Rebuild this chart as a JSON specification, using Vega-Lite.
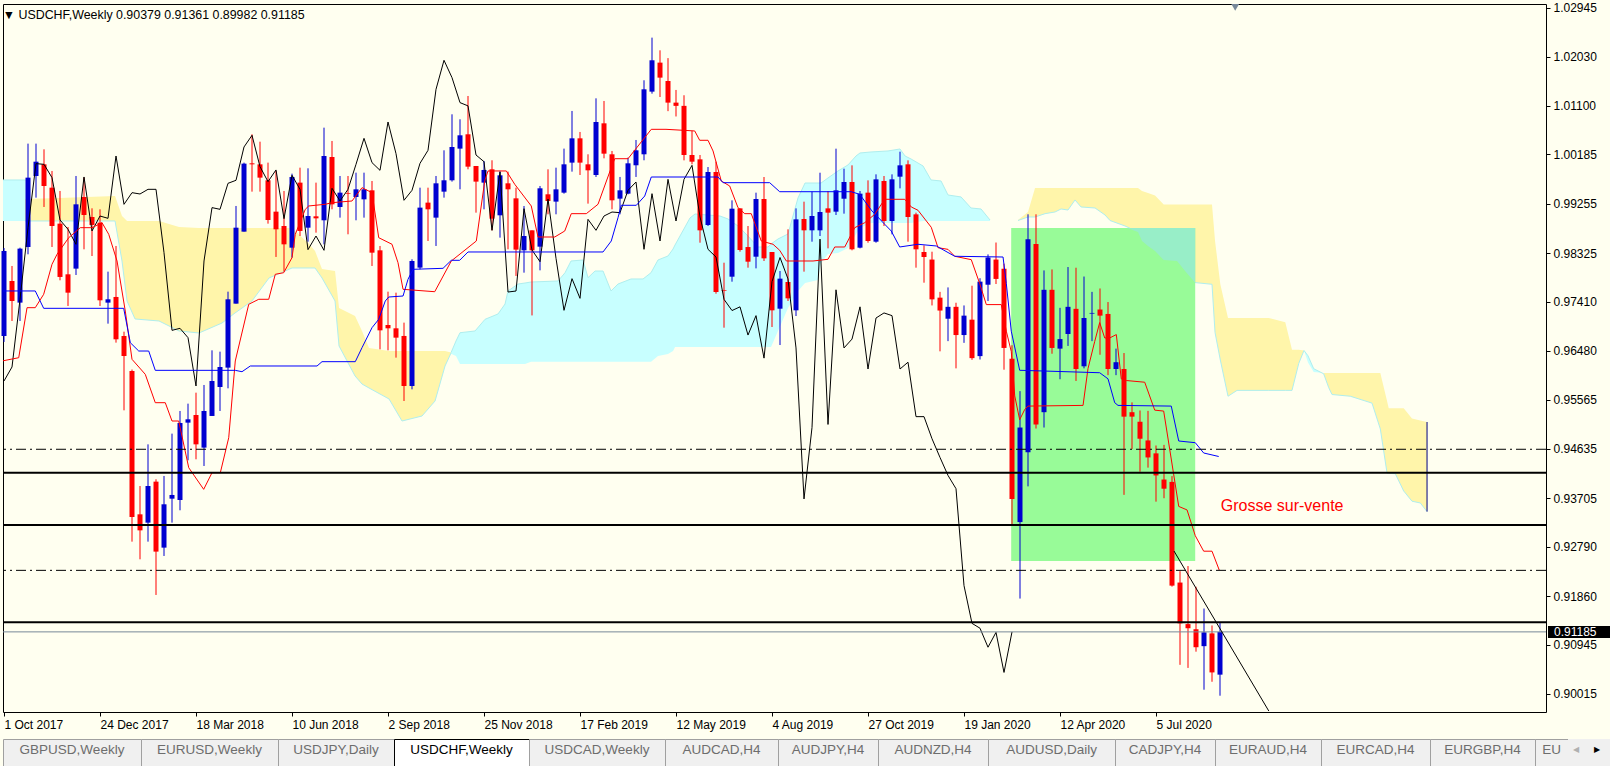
{
"$schema": "https://vega.github.io/schema/vega-lite/v6.json",
"padding": {"left": 1, "top": 1, "right": 0, "bottom": 0},
"background": "#FFFFF0",
"spacing": 0,
"config": {"view": {"stroke": null}, "axis": {"grid": false, "domain": false, "tickColor": "#000000", "labelColor": "#000000", "labelFont": "Liberation Sans", "labelFontSize": 12}},
"datasets": {
"candles": [
{"w":0,"o":0.96762,"h":0.9842,"l":0.9665,"c":0.98365},
{"w":1,"o":0.97799,"h":0.98082,"l":0.97045,"c":0.97422},
{"w":2,"o":0.97391,"h":0.98427,"l":0.97045,"c":0.98409},
{"w":3,"o":0.9844,"h":1.00388,"l":0.98302,"c":0.99747},
{"w":4,"o":0.99778,"h":1.00388,"l":0.9937,"c":1.00048},
{"w":5,"o":0.99998,"h":1.00281,"l":0.99194,"c":0.9959},
{"w":6,"o":0.99558,"h":0.99873,"l":0.9844,"c":0.98836},
{"w":7,"o":0.9888,"h":0.99496,"l":0.97812,"c":0.97875},
{"w":8,"o":0.97925,"h":0.98817,"l":0.97328,"c":0.97579},
{"w":9,"o":0.98032,"h":0.99778,"l":0.97912,"c":0.99244},
{"w":10,"o":0.99382,"h":0.99747,"l":0.98396,"c":0.99043},
{"w":11,"o":0.99005,"h":0.99169,"l":0.9827,"c":0.98855},
{"w":12,"o":0.98899,"h":0.9915,"l":0.97328,"c":0.97435},
{"w":13,"o":0.97391,"h":0.97975,"l":0.96995,"c":0.97454},
{"w":14,"o":0.97498,"h":0.98459,"l":0.96637,"c":0.967},
{"w":15,"o":0.96762,"h":0.96844,"l":0.95361,"c":0.96385},
{"w":16,"o":0.96103,"h":0.9613,"l":0.92886,"c":0.93351},
{"w":17,"o":0.93401,"h":0.93935,"l":0.92553,"c":0.93099},
{"w":18,"o":0.93244,"h":0.9472,"l":0.92886,"c":0.93935},
{"w":19,"o":0.94017,"h":0.94061,"l":0.91881,"c":0.92698},
{"w":20,"o":0.92773,"h":0.94124,"l":0.92616,"c":0.9359},
{"w":21,"o":0.93696,"h":0.94922,"l":0.93244,"c":0.93766},
{"w":22,"o":0.93671,"h":0.95349,"l":0.93477,"c":0.95123},
{"w":23,"o":0.95129,"h":0.95487,"l":0.94419,"c":0.95192},
{"w":24,"o":0.95273,"h":0.95694,"l":0.94438,"c":0.9472},
{"w":25,"o":0.94658,"h":0.95839,"l":0.94312,"c":0.95349},
{"w":26,"o":0.95255,"h":0.96492,"l":0.95255,"c":0.95914},
{"w":27,"o":0.95801,"h":0.96467,"l":0.95349,"c":0.96178},
{"w":28,"o":0.96166,"h":0.97598,"l":0.95776,"c":0.97454},
{"w":29,"o":0.97372,"h":0.99213,"l":0.97372,"c":0.98804},
{"w":30,"o":0.98729,"h":1.0003,"l":0.98729,"c":1.00011},
{"w":31,"o":1.00017,"h":1.00564,"l":0.99483,"c":0.99998},
{"w":32,"o":0.99998,"h":1.00425,"l":0.99483,"c":0.99747},
{"w":33,"o":0.99697,"h":1.0003,"l":0.9888,"c":0.98949},
{"w":34,"o":0.99106,"h":0.99873,"l":0.98252,"c":0.98773},
{"w":35,"o":0.98836,"h":0.99496,"l":0.97975,"c":0.9849},
{"w":36,"o":0.98427,"h":0.99822,"l":0.98239,"c":0.9976},
{"w":37,"o":0.99653,"h":0.99935,"l":0.98647,"c":0.98742},
{"w":38,"o":0.98804,"h":0.99923,"l":0.98541,"c":0.99024},
{"w":39,"o":0.99018,"h":0.99653,"l":0.9871,"c":0.9898},
{"w":40,"o":0.98943,"h":1.00689,"l":0.9849,"c":1.00155},
{"w":41,"o":1.00136,"h":1.00438,"l":0.9915,"c":0.99244},
{"w":42,"o":0.99194,"h":0.99778,"l":0.98993,"c":0.99464},
{"w":43,"o":0.99452,"h":0.99778,"l":0.98679,"c":0.99439},
{"w":44,"o":0.99382,"h":0.99841,"l":0.98943,"c":0.99527},
{"w":45,"o":0.99338,"h":0.99841,"l":0.98993,"c":0.99527},
{"w":46,"o":0.99508,"h":0.99684,"l":0.98082,"c":0.98333},
{"w":47,"o":0.98377,"h":0.98459,"l":0.96511,"c":0.96869},
{"w":48,"o":0.9697,"h":0.97598,"l":0.96492,"c":0.96907},
{"w":49,"o":0.96907,"h":0.97579,"l":0.96354,"c":0.96731},
{"w":50,"o":0.96763,"h":0.97014,"l":0.95537,"c":0.9582},
{"w":51,"o":0.9582,"h":0.98208,"l":0.95757,"c":0.98176},
{"w":52,"o":0.98051,"h":0.99558,"l":0.98019,"c":0.99182},
{"w":53,"o":0.99276,"h":0.99558,"l":0.98553,"c":0.9915},
{"w":54,"o":0.98993,"h":0.99778,"l":0.98459,"c":0.9964},
{"w":55,"o":0.99483,"h":1.00262,"l":0.9937,"c":0.99697},
{"w":56,"o":0.99697,"h":1.00941,"l":0.99672,"c":1.00325},
{"w":57,"o":1.00294,"h":1.00847,"l":0.99527,"c":1.00545},
{"w":58,"o":1.00564,"h":1.01286,"l":0.99904,"c":0.99954},
{"w":59,"o":0.99967,"h":0.99967,"l":0.99087,"c":0.99672},
{"w":60,"o":0.99653,"h":1.00061,"l":0.9915,"c":0.99892},
{"w":61,"o":0.99904,"h":1.00074,"l":0.98754,"c":0.98974},
{"w":62,"o":0.99037,"h":0.99873,"l":0.98616,"c":0.99791},
{"w":63,"o":0.9964,"h":0.9986,"l":0.98396,"c":0.99527},
{"w":64,"o":0.99357,"h":0.99558,"l":0.97894,"c":0.9839},
{"w":65,"o":0.98377,"h":0.99213,"l":0.97956,"c":0.98647},
{"w":66,"o":0.98754,"h":0.98754,"l":0.9715,"c":0.98377},
{"w":67,"o":0.98446,"h":0.9959,"l":0.98,"c":0.99546},
{"w":68,"o":0.99433,"h":0.99904,"l":0.99056,"c":0.99307},
{"w":69,"o":0.99295,"h":0.99935,"l":0.99056,"c":0.99527},
{"w":70,"o":0.99464,"h":1.00294,"l":0.99445,"c":0.99998},
{"w":71,"o":1.0003,"h":1.01004,"l":0.9986,"c":1.00488},
{"w":72,"o":1.00488,"h":1.00608,"l":0.99797,"c":1.0003},
{"w":73,"o":0.99998,"h":1.00187,"l":0.99257,"c":0.99885},
{"w":74,"o":0.99797,"h":1.01242,"l":0.9976,"c":1.00796},
{"w":75,"o":1.00771,"h":1.01192,"l":1.00111,"c":1.00199},
{"w":76,"o":1.00187,"h":1.0025,"l":0.9915,"c":0.9932},
{"w":77,"o":0.99351,"h":0.9976,"l":0.99056,"c":0.99508},
{"w":78,"o":0.99445,"h":1.00124,"l":0.99433,"c":1.00017},
{"w":79,"o":0.9998,"h":1.00457,"l":0.9976,"c":1.00262},
{"w":80,"o":1.00187,"h":1.01582,"l":1.00074,"c":1.01412},
{"w":81,"o":1.01368,"h":1.02386,"l":1.0133,"c":1.01959},
{"w":82,"o":1.01915,"h":1.02147,"l":1.01267,"c":1.01632},
{"w":83,"o":1.01569,"h":1.02,"l":1.01,"c":1.01161},
{"w":84,"o":1.01161,"h":1.014,"l":1.009,"c":1.011},
{"w":85,"o":1.011,"h":1.013,"l":1.00073,"c":1.00174},
{"w":86,"o":1.00174,"h":1.0063,"l":0.99998,"c":1.00048},
{"w":87,"o":1.00092,"h":1.00174,"l":0.98521,"c":0.98754},
{"w":88,"o":0.98854,"h":0.99947,"l":0.98835,"c":0.99853},
{"w":89,"o":0.99853,"h":1.00048,"l":0.9756,"c":0.97591},
{"w":90,"o":0.97623,"h":0.98144,"l":0.96919,"c":0.9761},
{"w":91,"o":0.9788,"h":0.99319,"l":0.97786,"c":0.99162},
{"w":92,"o":0.99168,"h":0.99168,"l":0.98352,"c":0.98383},
{"w":93,"o":0.98439,"h":0.98835,"l":0.9805,"c":0.98163},
{"w":94,"o":0.98257,"h":0.99464,"l":0.98037,"c":0.99344},
{"w":95,"o":0.99344,"h":0.99759,"l":0.98176,"c":0.98226},
{"w":96,"o":0.98345,"h":0.98345,"l":0.96932,"c":0.97246},
{"w":97,"o":0.97277,"h":0.97987,"l":0.96592,"c":0.97843},
{"w":98,"o":0.9778,"h":0.98773,"l":0.97422,"c":0.97472},
{"w":99,"o":0.97246,"h":0.99168,"l":0.97139,"c":0.98961},
{"w":100,"o":0.98967,"h":0.99294,"l":0.97975,"c":0.98754},
{"w":101,"o":0.98754,"h":0.99483,"l":0.9854,"c":0.99024},
{"w":102,"o":0.98754,"h":0.9984,"l":0.98647,"c":0.99099},
{"w":103,"o":0.99168,"h":0.99495,"l":0.98414,"c":0.99087},
{"w":104,"o":0.99106,"h":1.00293,"l":0.99043,"c":0.99508},
{"w":105,"o":0.9935,"h":0.99916,"l":0.99068,"c":0.99665},
{"w":106,"o":0.99665,"h":0.99979,"l":0.98377,"c":0.98396},
{"w":107,"o":0.98427,"h":0.99495,"l":0.98414,"c":0.99445},
{"w":108,"o":0.99464,"h":0.99696,"l":0.98521,"c":0.98553},
{"w":109,"o":0.9854,"h":0.99809,"l":0.98521,"c":0.99715},
{"w":110,"o":0.99684,"h":0.99778,"l":0.98835,"c":0.9893},
{"w":111,"o":0.9893,"h":0.99809,"l":0.98678,"c":0.99715},
{"w":112,"o":0.99765,"h":1.00236,"l":0.99545,"c":0.99979},
{"w":113,"o":0.99998,"h":1.00073,"l":0.9854,"c":0.99005},
{"w":114,"o":0.99055,"h":0.99087,"l":0.9805,"c":0.98396},
{"w":115,"o":0.98345,"h":0.98471,"l":0.97767,"c":0.98251},
{"w":116,"o":0.98203,"h":0.98351,"l":0.97338,"c":0.97453},
{"w":117,"o":0.97485,"h":0.97594,"l":0.96473,"c":0.97242},
{"w":118,"o":0.97088,"h":0.97678,"l":0.96665,"c":0.97312},
{"w":119,"o":0.97312,"h":0.97389,"l":0.96152,"c":0.9678},
{"w":120,"o":0.9678,"h":0.97338,"l":0.96633,"c":0.97146},
{"w":121,"o":0.9707,"h":0.9771,"l":0.96313,"c":0.96345},
{"w":122,"o":0.96383,"h":0.97851,"l":0.96319,"c":0.97787},
{"w":123,"o":0.97729,"h":0.983,"l":0.97421,"c":0.98242},
{"w":124,"o":0.98203,"h":0.98524,"l":0.97742,"c":0.97838},
{"w":125,"o":0.9803,"h":0.98126,"l":0.96127,"c":0.96537},
{"w":126,"o":0.96332,"h":0.96588,"l":0.93191,"c":0.93691},
{"w":127,"o":0.93255,"h":0.95723,"l":0.91813,"c":0.95037},
{"w":128,"o":0.94569,"h":0.99056,"l":0.93928,"c":0.98588},
{"w":129,"o":0.98498,"h":0.99056,"l":0.95018,"c":0.95095},
{"w":130,"o":0.95326,"h":0.97998,"l":0.95037,"c":0.97633},
{"w":131,"o":0.97633,"h":0.98017,"l":0.96428,"c":0.96537},
{"w":132,"o":0.96524,"h":0.97293,"l":0.95947,"c":0.96704},
{"w":133,"o":0.968,"h":0.98062,"l":0.96575,"c":0.97312},
{"w":134,"o":0.97274,"h":0.98049,"l":0.95915,"c":0.9614},
{"w":135,"o":0.96191,"h":0.97883,"l":0.96152,"c":0.97101},
{"w":136,"o":0.97184,"h":0.97594,"l":0.96665,"c":0.97197},
{"w":137,"o":0.97261,"h":0.97658,"l":0.96409,"c":0.97146},
{"w":138,"o":0.97178,"h":0.97402,"l":0.96024,"c":0.9614},
{"w":139,"o":0.9614,"h":0.96524,"l":0.96024,"c":0.96268},
{"w":140,"o":0.9614,"h":0.96441,"l":0.93768,"c":0.95242},
{"w":141,"o":0.95326,"h":0.95511,"l":0.94633,"c":0.95242},
{"w":142,"o":0.95146,"h":0.95358,"l":0.94204,"c":0.94826},
{"w":143,"o":0.94794,"h":0.95351,"l":0.94281,"c":0.94473},
{"w":144,"o":0.9455,"h":0.94698,"l":0.9364,"c":0.94134},
{"w":145,"o":0.94057,"h":0.9471,"l":0.93704,"c":0.93884},
{"w":146,"o":0.94012,"h":0.94121,"l":0.92038,"c":0.92057},
{"w":147,"o":0.92115,"h":0.9233,"l":0.90564,"c":0.91346},
{"w":148,"o":0.91332,"h":0.92426,"l":0.90506,"c":0.91254},
{"w":149,"o":0.91235,"h":0.92036,"l":0.90812,"c":0.90896},
{"w":150,"o":0.90916,"h":0.91625,"l":0.90095,"c":0.91176},
{"w":151,"o":0.91157,"h":0.91306,"l":0.90245,"c":0.90421},
{"w":152,"o":0.90379,"h":0.91361,"l":0.89982,"c":0.91185}
],
"chikou": [
{"w":0,"v":0.95914},{"w":1,"v":0.96178},{"w":2,"v":0.97454},{"w":3,"v":0.98804},{"w":4,"v":1.00011},{"w":5,"v":0.99998},{"w":6,"v":0.99747},{"w":7,"v":0.98949},{"w":8,"v":0.98773},{"w":9,"v":0.9849},
{"w":10,"v":0.9976},{"w":11,"v":0.98742},{"w":12,"v":0.99024},{"w":13,"v":0.9898},{"w":14,"v":1.00155},{"w":15,"v":0.99244},{"w":16,"v":0.99464},{"w":17,"v":0.99439},{"w":18,"v":0.99527},{"w":19,"v":0.99527},
{"w":20,"v":0.98333},{"w":21,"v":0.96869},{"w":22,"v":0.96907},{"w":23,"v":0.96731},{"w":24,"v":0.9582},{"w":25,"v":0.98176},{"w":26,"v":0.99182},{"w":27,"v":0.9915},{"w":28,"v":0.9964},{"w":29,"v":0.99697},
{"w":30,"v":1.00325},{"w":31,"v":1.00545},{"w":32,"v":0.99954},{"w":33,"v":0.99672},{"w":34,"v":0.99892},{"w":35,"v":0.98974},{"w":36,"v":0.99791},{"w":37,"v":0.99527},{"w":38,"v":0.9839},{"w":39,"v":0.98647},
{"w":40,"v":0.98377},{"w":41,"v":0.99546},{"w":42,"v":0.99307},{"w":43,"v":0.99527},{"w":44,"v":0.99998},{"w":45,"v":1.00488},{"w":46,"v":1.0003},{"w":47,"v":0.99885},{"w":48,"v":1.00796},{"w":49,"v":1.00199},
{"w":50,"v":0.9932},{"w":51,"v":0.99508},{"w":52,"v":1.00017},{"w":53,"v":1.00262},{"w":54,"v":1.01412},{"w":55,"v":1.01959},{"w":56,"v":1.01632},{"w":57,"v":1.01161},{"w":58,"v":1.011},{"w":59,"v":1.00174},
{"w":60,"v":1.00048},{"w":61,"v":0.98754},{"w":62,"v":0.99853},{"w":63,"v":0.97591},{"w":64,"v":0.9761},{"w":65,"v":0.99162},{"w":66,"v":0.98383},{"w":67,"v":0.98163},{"w":68,"v":0.99344},{"w":69,"v":0.98226},
{"w":70,"v":0.97246},{"w":71,"v":0.97843},{"w":72,"v":0.97472},{"w":73,"v":0.98961},{"w":74,"v":0.98754},{"w":75,"v":0.99024},{"w":76,"v":0.99099},{"w":77,"v":0.99087},{"w":78,"v":0.99508},{"w":79,"v":0.99665},
{"w":80,"v":0.98396},{"w":81,"v":0.99445},{"w":82,"v":0.98553},{"w":83,"v":0.99715},{"w":84,"v":0.9893},{"w":85,"v":0.99715},{"w":86,"v":0.99979},{"w":87,"v":0.99005},{"w":88,"v":0.98396},{"w":89,"v":0.98251},
{"w":90,"v":0.97453},{"w":91,"v":0.97242},{"w":92,"v":0.97312},{"w":93,"v":0.9678},{"w":94,"v":0.97146},{"w":95,"v":0.96345},{"w":96,"v":0.97787},{"w":97,"v":0.98242},{"w":98,"v":0.97838},{"w":99,"v":0.96537},
{"w":100,"v":0.93691},{"w":101,"v":0.95037},{"w":102,"v":0.98588},{"w":103,"v":0.95095},{"w":104,"v":0.97633},{"w":105,"v":0.96537},{"w":106,"v":0.96704},{"w":107,"v":0.97312},{"w":108,"v":0.9614},{"w":109,"v":0.97101},
{"w":110,"v":0.97197},{"w":111,"v":0.97146},{"w":112,"v":0.9614},{"w":113,"v":0.96268},{"w":114,"v":0.95242},{"w":115,"v":0.95242},{"w":116,"v":0.94826},{"w":117,"v":0.94473},{"w":118,"v":0.94134},{"w":119,"v":0.93884},
{"w":120,"v":0.92057},{"w":121,"v":0.91346},{"w":122,"v":0.91254},{"w":123,"v":0.90896},{"w":124,"v":0.91176},{"w":125,"v":0.90421},{"w":126,"v":0.91185}
],
"tenkan": [
{"w":-0.25,"v":0.96291},{"w":1.84,"v":0.96353},{"w":2.88,"v":0.97296},{"w":3.91,"v":0.97296},{"w":4.96,"v":0.97548},{"w":6.0,"v":0.98114},{"w":6.63,"v":0.98302},{"w":8.09,"v":0.98615},{"w":9.54,"v":0.98804},{"w":11.0,"v":0.98804},
{"w":12.25,"v":0.98898},{"w":13.09,"v":0.98679},{"w":14.13,"v":0.98176},{"w":15.16,"v":0.97233},{"w":16.0,"v":0.96323},{"w":17.66,"v":0.9604},{"w":18.91,"v":0.95505},{"w":20.16,"v":0.95505},{"w":21.0,"v":0.9516},{"w":21.84,"v":0.9516},
{"w":23.09,"v":0.9428},{"w":24.96,"v":0.93872},{"w":26.0,"v":0.94185},{"w":27.04,"v":0.94185},{"w":28.09,"v":0.94845},{"w":28.91,"v":0.96291},{"w":30.59,"v":0.9736},{"w":31.84,"v":0.97454},{"w":33.09,"v":0.97454},{"w":33.91,"v":0.97925},
{"w":34.96,"v":0.97955},{"w":36.0,"v":0.98238},{"w":36.41,"v":0.98679},{"w":37.66,"v":0.9915},{"w":38.09,"v":0.99213},{"w":40.16,"v":0.99245},{"w":41.0,"v":0.99275},{"w":43.5,"v":0.99307},{"w":44.75,"v":0.99558},{"w":46.0,"v":0.99463},
{"w":46.84,"v":0.98615},{"w":48.5,"v":0.98491},{"w":49.25,"v":0.98144},{"w":49.88,"v":0.97642},{"w":53.84,"v":0.97597},{"w":55.91,"v":0.98176},{"w":59.04,"v":0.98553},{"w":60.09,"v":0.99684},{"w":60.5,"v":0.99873},{"w":62.79,"v":0.99873},
{"w":63.84,"v":0.99622},{"w":65.91,"v":0.99213},{"w":66.75,"v":0.98628},{"w":68.84,"v":0.98628},{"w":70.09,"v":0.98741},{"w":70.91,"v":0.99068},{"w":72.79,"v":0.99068},{"w":74.25,"v":0.99245},{"w":75.91,"v":0.99935},{"w":76.34,"v":1.00104},
{"w":78.0,"v":1.00104},{"w":80.91,"v":1.00658},{"w":82.75,"v":1.00658},{"w":86.34,"v":1.00627},{"w":86.96,"v":1.00451},{"w":88.0,"v":1.00451},{"w":88.63,"v":1.0025},{"w":89.66,"v":0.99684},{"w":90.71,"v":0.9959},{"w":91.75,"v":0.99181},
{"w":92.59,"v":0.99068},{"w":93.41,"v":0.99068},{"w":94.66,"v":0.98553},{"w":96.13,"v":0.98491},{"w":96.96,"v":0.98378},{"w":97.79,"v":0.98176},{"w":101.13,"v":0.98176},{"w":103.0,"v":0.98208},{"w":103.84,"v":0.9844},{"w":105.09,"v":0.9844},
{"w":106.34,"v":0.98804},{"w":107.59,"v":0.98898},{"w":108.84,"v":0.99056},{"w":110.09,"v":0.99339},{"w":112.59,"v":0.99339},{"w":113.41,"v":0.99194},{"w":114.25,"v":0.99132},{"w":115.91,"v":0.98811},{"w":116.75,"v":0.98427},{"w":118.0,"v":0.98395},
{"w":118.84,"v":0.98265},{"w":120.91,"v":0.98201},{"w":121.96,"v":0.97752},{"w":122.79,"v":0.97354},{"w":124.66,"v":0.97354},{"w":125.29,"v":0.96853},{"w":125.91,"v":0.96468},{"w":126.34,"v":0.95633},{"w":126.96,"v":0.95184},{"w":127.59,"v":0.95377},
{"w":128.0,"v":0.95441},{"w":134.88,"v":0.95454},{"w":135.5,"v":0.96148},{"w":136.34,"v":0.9666},{"w":136.96,"v":0.97015},{"w":137.59,"v":0.96725},{"w":138.21,"v":0.96725},{"w":139.04,"v":0.96789},{"w":139.66,"v":0.95955},{"w":140.29,"v":0.95923},
{"w":142.59,"v":0.95891},{"w":143.84,"v":0.95365},{"w":144.96,"v":0.95347},{"w":146.84,"v":0.9355},{"w":147.88,"v":0.93484},{"w":148.91,"v":0.92998},{"w":149.96,"v":0.92706},{"w":151.0,"v":0.92706},{"w":151.91,"v":0.92349}
],
"kijun": [
{"w":-0.25,"v":0.97611},{"w":3.91,"v":0.97611},{"w":4.96,"v":0.97284},{"w":14.96,"v":0.97284},{"w":15.79,"v":0.96636},{"w":16.84,"v":0.96479},{"w":18.09,"v":0.96479},{"w":18.91,"v":0.96115},{"w":28.91,"v":0.96115},{"w":29.75,"v":0.96089},
{"w":30.79,"v":0.96197},{"w":39.13,"v":0.96197},{"w":39.75,"v":0.96278},{"w":43.91,"v":0.96278},{"w":44.75,"v":0.96542},{"w":46.0,"v":0.96919},{"w":46.84,"v":0.97077},{"w":47.66,"v":0.97422},{"w":48.09,"v":0.97497},{"w":49.88,"v":0.97516},
{"w":50.5,"v":0.97831},{"w":51.13,"v":0.98019},{"w":54.88,"v":0.98038},{"w":55.91,"v":0.98189},{"w":56.96,"v":0.98189},{"w":58.0,"v":0.98346},{"w":74.88,"v":0.98346},{"w":75.91,"v":0.98553},{"w":76.75,"v":0.98992},{"w":77.16,"v":0.99226},
{"w":79.04,"v":0.99226},{"w":80.09,"v":0.99401},{"w":80.91,"v":0.99759},{"w":89.25,"v":0.99759},{"w":89.88,"v":0.99652},{"w":95.71,"v":0.99652},{"w":96.96,"v":0.99482},{"w":105.91,"v":0.99482},{"w":106.96,"v":0.99433},{"w":108.5,"v":0.99118},
{"w":110.09,"v":0.98868},{"w":110.91,"v":0.98741},{"w":111.96,"v":0.9844},{"w":114.25,"v":0.98491},{"w":116.54,"v":0.98459},{"w":118.84,"v":0.98265},{"w":124.88,"v":0.98251},{"w":125.29,"v":0.97752},{"w":125.91,"v":0.96853},{"w":126.96,"v":0.96116},
{"w":136.96,"v":0.9607},{"w":138.0,"v":0.95955},{"w":138.84,"v":0.95505},{"w":139.25,"v":0.95454},{"w":145.91,"v":0.95441},{"w":146.84,"v":0.94783},{"w":148.91,"v":0.94751},{"w":149.96,"v":0.94557},{"w":151.84,"v":0.94491}
],
"cloud": [
{"w":-0.25,"a":0.99703,"b":0.9893,"seg":"c0","kind":"up"},{"w":2.7,"a":0.99703,"b":0.9893,"seg":"c0","kind":"up"},
{"w":2.63,"a":0.9893,"b":0.99345,"seg":"y1","kind":"dn"},{"w":6.88,"a":0.9893,"b":0.99364,"seg":"y1","kind":"dn"},{"w":13.88,"a":0.9893,"b":0.99401,"seg":"y1","kind":"dn"},{"w":14.75,"a":0.98176,"b":0.99024,"seg":"y1","kind":"dn"},{"w":15.38,"a":0.97422,"b":0.9893,"seg":"y1","kind":"dn"},{"w":16.38,"a":0.97083,"b":0.9893,"seg":"y1","kind":"dn"},{"w":19.38,"a":0.97045,"b":0.9893,"seg":"y1","kind":"dn"},{"w":21.88,"a":0.96857,"b":0.98817,"seg":"y1","kind":"dn"},{"w":24.38,"a":0.96819,"b":0.98798,"seg":"y1","kind":"dn"},{"w":27.25,"a":0.97007,"b":0.98798,"seg":"y1","kind":"dn"},{"w":28.88,"a":0.97196,"b":0.98798,"seg":"y1","kind":"dn"},{"w":31.0,"a":0.97422,"b":0.98798,"seg":"y1","kind":"dn"},{"w":33.13,"a":0.97856,"b":0.98798,"seg":"y1","kind":"dn"},{"w":36.0,"a":0.98044,"b":0.98798,"seg":"y1","kind":"dn"},{"w":38.13,"a":0.98044,"b":0.98496,"seg":"y1","kind":"dn"},{"w":38.88,"a":0.98044,"b":0.98364,"seg":"y1","kind":"dn"},{"w":39.75,"a":0.97856,"b":0.98025,"seg":"y1","kind":"dn"},{"w":41.38,"a":0.97422,"b":0.97987,"seg":"y1","kind":"dn"},{"w":41.88,"a":0.96574,"b":0.9729,"seg":"y1","kind":"dn"},{"w":43.88,"a":0.96009,"b":0.97139,"seg":"y1","kind":"dn"},{"w":44.75,"a":0.95857,"b":0.96857,"seg":"y1","kind":"dn"},{"w":45.63,"a":0.95782,"b":0.96536,"seg":"y1","kind":"dn"},{"w":48.13,"a":0.95575,"b":0.9648,"seg":"y1","kind":"dn"},{"w":49.75,"a":0.9516,"b":0.9648,"seg":"y1","kind":"dn"},{"w":52.25,"a":0.95254,"b":0.9648,"seg":"y1","kind":"dn"},{"w":53.88,"a":0.95537,"b":0.9648,"seg":"y1","kind":"dn"},{"w":55.13,"a":0.96197,"b":0.9648,"seg":"y1","kind":"dn"},{"w":55.88,"a":0.96442,"b":0.96451,"seg":"y1","kind":"dn"},
{"w":55.88,"a":0.96448,"b":0.96429,"seg":"c1","kind":"up"},{"w":56.5,"a":0.96668,"b":0.96385,"seg":"c1","kind":"up"},{"w":57.0,"a":0.96824,"b":0.96234,"seg":"c1","kind":"up"},{"w":58.88,"a":0.96857,"b":0.96234,"seg":"c1","kind":"up"},{"w":60.13,"a":0.97077,"b":0.96234,"seg":"c1","kind":"up"},{"w":61.75,"a":0.97177,"b":0.96234,"seg":"c1","kind":"up"},{"w":62.63,"a":0.97365,"b":0.96234,"seg":"c1","kind":"up"},{"w":63.0,"a":0.97611,"b":0.96234,"seg":"c1","kind":"up"},{"w":64.25,"a":0.97742,"b":0.96234,"seg":"c1","kind":"up"},{"w":65.13,"a":0.97761,"b":0.96234,"seg":"c1","kind":"up"},{"w":65.88,"a":0.9778,"b":0.96278,"seg":"c1","kind":"up"},{"w":69.25,"a":0.97799,"b":0.96278,"seg":"c1","kind":"up"},{"w":70.13,"a":0.97955,"b":0.96278,"seg":"c1","kind":"up"},{"w":70.88,"a":0.98176,"b":0.96278,"seg":"c1","kind":"up"},{"w":72.38,"a":0.98195,"b":0.96278,"seg":"c1","kind":"up"},{"w":73.0,"a":0.97861,"b":0.96278,"seg":"c1","kind":"up"},{"w":73.88,"a":0.97987,"b":0.96278,"seg":"c1","kind":"up"},{"w":74.88,"a":0.97987,"b":0.96278,"seg":"c1","kind":"up"},{"w":75.88,"a":0.97611,"b":0.96278,"seg":"c1","kind":"up"},{"w":76.75,"a":0.97742,"b":0.96278,"seg":"c1","kind":"up"},{"w":78.38,"a":0.97837,"b":0.96278,"seg":"c1","kind":"up"},{"w":79.88,"a":0.97837,"b":0.96278,"seg":"c1","kind":"up"},{"w":80.88,"a":0.97955,"b":0.96278,"seg":"c1","kind":"up"},{"w":81.75,"a":0.98195,"b":0.96385,"seg":"c1","kind":"up"},{"w":83.0,"a":0.9827,"b":0.96423,"seg":"c1","kind":"up"},{"w":83.63,"a":0.98402,"b":0.9648,"seg":"c1","kind":"up"},{"w":83.88,"a":0.98478,"b":0.96555,"seg":"c1","kind":"up"},{"w":85.75,"a":0.98987,"b":0.96555,"seg":"c1","kind":"up"},{"w":86.38,"a":0.99062,"b":0.96555,"seg":"c1","kind":"up"},{"w":89.5,"a":0.99024,"b":0.96555,"seg":"c1","kind":"up"},{"w":90.5,"a":0.98968,"b":0.96555,"seg":"c1","kind":"up"},{"w":91.75,"a":0.98836,"b":0.96555,"seg":"c1","kind":"up"},{"w":92.75,"a":0.98685,"b":0.96555,"seg":"c1","kind":"up"},{"w":94.25,"a":0.9844,"b":0.96555,"seg":"c1","kind":"up"},{"w":95.5,"a":0.9844,"b":0.96555,"seg":"c1","kind":"up"},{"w":95.88,"a":0.98496,"b":0.96555,"seg":"c1","kind":"up"},{"w":96.75,"a":0.98591,"b":0.96857,"seg":"c1","kind":"up"},{"w":98.0,"a":0.98685,"b":0.9729,"seg":"c1","kind":"up"},{"w":99.25,"a":0.99364,"b":0.97611,"seg":"c1","kind":"up"},{"w":100.13,"a":0.99646,"b":0.97761,"seg":"c1","kind":"up"},{"w":101.75,"a":0.99646,"b":0.97818,"seg":"c1","kind":"up"},{"w":102.13,"a":0.99646,"b":0.98138,"seg":"c1","kind":"up"},{"w":103.0,"a":0.99741,"b":0.98308,"seg":"c1","kind":"up"},{"w":104.25,"a":0.99873,"b":0.98327,"seg":"c1","kind":"up"},{"w":105.5,"a":0.99986,"b":0.98421,"seg":"c1","kind":"up"},{"w":106.5,"a":1.00155,"b":0.98685,"seg":"c1","kind":"up"},{"w":107.0,"a":1.00212,"b":0.98798,"seg":"c1","kind":"up"},{"w":108.38,"a":1.00231,"b":0.98892,"seg":"c1","kind":"up"},{"w":110.5,"a":1.0025,"b":0.98892,"seg":"c1","kind":"up"},{"w":112.0,"a":1.00287,"b":0.98892,"seg":"c1","kind":"up"},{"w":112.63,"a":1.00155,"b":0.98892,"seg":"c1","kind":"up"},{"w":113.38,"a":1.00099,"b":0.98892,"seg":"c1","kind":"up"},{"w":114.88,"a":0.99967,"b":0.9893,"seg":"c1","kind":"up"},{"w":115.88,"a":0.99703,"b":0.9893,"seg":"c1","kind":"up"},{"w":117.13,"a":0.99684,"b":0.9893,"seg":"c1","kind":"up"},{"w":118.0,"a":0.9942,"b":0.9893,"seg":"c1","kind":"up"},{"w":119.63,"a":0.99383,"b":0.9893,"seg":"c1","kind":"up"},{"w":120.88,"a":0.99175,"b":0.9893,"seg":"c1","kind":"up"},{"w":122.13,"a":0.99156,"b":0.9893,"seg":"c1","kind":"up"},{"w":123.25,"a":0.98949,"b":0.9893,"seg":"c1","kind":"up"},
{"w":126.75,"a":0.98939,"b":0.98949,"seg":"y2","kind":"dn"},{"w":128.0,"a":0.99005,"b":0.991,"seg":"y2","kind":"dn"},{"w":128.88,"a":0.99005,"b":0.99552,"seg":"y2","kind":"dn"},{"w":130.13,"a":0.99068,"b":0.99552,"seg":"y2","kind":"dn"},{"w":131.38,"a":0.991,"b":0.99552,"seg":"y2","kind":"dn"},{"w":132.13,"a":0.99156,"b":0.99552,"seg":"y2","kind":"dn"},{"w":133.0,"a":0.99137,"b":0.99552,"seg":"y2","kind":"dn"},{"w":133.88,"a":0.99326,"b":0.99552,"seg":"y2","kind":"dn"},{"w":134.63,"a":0.99194,"b":0.99552,"seg":"y2","kind":"dn"},{"w":136.38,"a":0.99175,"b":0.99552,"seg":"y2","kind":"dn"},{"w":137.63,"a":0.99043,"b":0.99552,"seg":"y2","kind":"dn"},{"w":138.25,"a":0.98939,"b":0.99552,"seg":"y2","kind":"dn"},{"w":140.13,"a":0.98836,"b":0.99552,"seg":"y2","kind":"dn"},{"w":141.75,"a":0.98723,"b":0.99552,"seg":"y2","kind":"dn"},{"w":142.25,"a":0.98553,"b":0.99495,"seg":"y2","kind":"dn"},{"w":143.0,"a":0.98459,"b":0.99458,"seg":"y2","kind":"dn"},{"w":143.88,"a":0.98364,"b":0.99411,"seg":"y2","kind":"dn"},{"w":144.96,"a":0.98195,"b":0.99243,"seg":"y2","kind":"dn"},{"w":146.63,"a":0.98176,"b":0.99243,"seg":"y2","kind":"dn"},{"w":147.63,"a":0.97987,"b":0.99243,"seg":"y2","kind":"dn"},{"w":148.88,"a":0.97769,"b":0.99243,"seg":"y2","kind":"dn"},{"w":151.0,"a":0.97737,"b":0.99243,"seg":"y2","kind":"dn"},{"w":151.38,"a":0.96828,"b":0.98553,"seg":"y2","kind":"dn"},{"w":152.04,"a":0.9631,"b":0.97737,"seg":"y2","kind":"dn"},{"w":153.0,"a":0.95627,"b":0.97101,"seg":"y2","kind":"dn"},{"w":154.13,"a":0.95737,"b":0.97101,"seg":"y2","kind":"dn"},{"w":158.09,"a":0.95737,"b":0.97101,"seg":"y2","kind":"dn"},{"w":160.16,"a":0.95737,"b":0.97022,"seg":"y2","kind":"dn"},{"w":161.0,"a":0.95737,"b":0.96504,"seg":"y2","kind":"dn"},{"w":161.84,"a":0.96244,"b":0.96504,"seg":"y2","kind":"dn"},{"w":162.5,"a":0.96489,"b":0.96489,"seg":"y2","kind":"dn"},
{"w":162.5,"a":0.96489,"b":0.96489,"seg":"c2","kind":"up"},{"w":163.0,"a":0.96389,"b":0.96263,"seg":"c2","kind":"up"},{"w":163.71,"a":0.96146,"b":0.96084,"seg":"c2","kind":"up"},{"w":164.96,"a":0.9605,"b":0.96063,"seg":"c2","kind":"up"},
{"w":164.96,"a":0.9605,"b":0.96063,"seg":"y3","kind":"dn"},{"w":165.59,"a":0.95789,"b":0.96063,"seg":"y3","kind":"dn"},{"w":166.0,"a":0.95659,"b":0.96063,"seg":"y3","kind":"dn"},{"w":168.29,"a":0.95627,"b":0.96063,"seg":"y3","kind":"dn"},{"w":171.0,"a":0.95497,"b":0.96063,"seg":"y3","kind":"dn"},{"w":172.04,"a":0.95011,"b":0.96063,"seg":"y3","kind":"dn"},{"w":172.88,"a":0.9418,"b":0.95537,"seg":"y3","kind":"dn"},{"w":173.09,"a":0.94174,"b":0.95399,"seg":"y3","kind":"dn"},{"w":173.91,"a":0.94167,"b":0.95399,"seg":"y3","kind":"dn"},{"w":174.96,"a":0.93841,"b":0.95399,"seg":"y3","kind":"dn"},{"w":176.0,"a":0.93648,"b":0.95205,"seg":"y3","kind":"dn"},{"w":177.04,"a":0.93615,"b":0.95169,"seg":"y3","kind":"dn"},{"w":177.88,"a":0.93452,"b":0.95141,"seg":"y3","kind":"dn"}
],
"overlap": [
{"w":140.4,"lo":0.98798},{"w":141.75,"lo":0.98723},{"w":142.25,"lo":0.98553},{"w":143.0,"lo":0.98459},{"w":143.88,"lo":0.98364},{"w":144.96,"lo":0.98195},{"w":146.63,"lo":0.98176},{"w":147.63,"lo":0.97987},{"w":148.9,"lo":0.97765}
]
},
"vconcat": [
{
"width": 1543,
"height": 708,
"view": {"stroke": "#000000", "strokeWidth": 1},
"layer": [
{"data": {"name": "cloud"}, "mark": {"type": "area", "clip": true},
 "encoding": {
  "x": {"field": "w", "type": "quantitative", "title": null, "scale": {"domain": [-0.125, 192.75], "nice": false, "zero": false, "padding": 0},
        "axis": {"title": null, "values": [0,12,24,36,48,60,72,84,96,108,120,132,144], "labelExpr": "timeFormat(datetime(2017, 9, 1 + 7 * datum.value), '%-d %b %Y')", "labelAlign": "left", "labelBaseline": "top", "labelPadding": 3, "tickSize": 4, "labelFlush": false, "labelOverlap": false, "minExtent": 25, "maxExtent": 25}},
  "y": {"field": "a", "type": "quantitative", "title": null, "scale": {"domain": [0.89675, 1.0302], "nice": false, "zero": false},
        "axis": {"title": null, "orient": "right", "values": [1.02945,1.0203,1.011,1.00185,0.99255,0.98325,0.9741,0.9648,0.95565,0.94635,0.93705,0.9279,0.9186,0.90945,0.90015], "format": ".5f", "tickSize": 4, "labelPadding": 3, "labelOverlap": false, "labelFlush": false}},
  "y2": {"field": "b"},
  "color": {"field": "kind", "type": "nominal", "scale": {"domain": ["up", "dn"], "range": ["#C8FFFF", "#FFF5AA"]}, "legend": null},
  "detail": {"field": "seg"}
 }},
{"data": {"name": "cloud"}, "mark": {"type": "line", "color": "#AFEEEE", "strokeWidth": 1, "clip": true},
 "encoding": {
  "x": {"field": "w", "type": "quantitative", "title": null, "scale": {"domain": [-0.125, 192.75], "nice": false, "zero": false, "padding": 0}},
  "y": {"field": "a", "type": "quantitative", "title": null, "scale": {"domain": [0.89675, 1.0302], "nice": false, "zero": false}},
  "detail": {"field": "seg"}
 }},
{"data": {"name": "cloud"}, "transform": [{"filter": "datum.w > 177.8"}], "mark": {"type": "rule", "color": "#000080", "strokeWidth": 1},
 "encoding": {
  "x": {"field": "w", "type": "quantitative", "title": null, "scale": {"domain": [-0.125, 192.75], "nice": false, "zero": false, "padding": 0}},
  "y": {"field": "a", "type": "quantitative", "title": null, "scale": {"domain": [0.89675, 1.0302], "nice": false, "zero": false}},
  "y2": {"field": "b"}
 }},
{"data": {"values": [{"w": 125.9, "w2": 148.9, "top": 0.98798, "bot": 0.92521}]}, "mark": {"type": "rect", "color": "#98FB98"},
 "encoding": {
  "x": {"field": "w", "type": "quantitative", "title": null, "scale": {"domain": [-0.125, 192.75], "nice": false, "zero": false, "padding": 0}},
  "x2": {"field": "w2"},
  "y": {"field": "top", "type": "quantitative", "title": null, "scale": {"domain": [0.89675, 1.0302], "nice": false, "zero": false}},
  "y2": {"field": "bot"}
 }},
{"data": {"name": "overlap"}, "mark": {"type": "area", "color": "#98EEC8"},
 "encoding": {
  "x": {"field": "w", "type": "quantitative", "title": null, "scale": {"domain": [-0.125, 192.75], "nice": false, "zero": false, "padding": 0}},
  "y": {"field": "lo", "type": "quantitative", "title": null, "scale": {"domain": [0.89675, 1.0302], "nice": false, "zero": false}},
  "y2": {"datum": 0.98798}
 }},
{"data": {"name": "candles"}, "mark": {"type": "rule", "strokeWidth": 1},
 "encoding": {
  "x": {"field": "w", "type": "quantitative", "title": null, "scale": {"domain": [-0.125, 192.75], "nice": false, "zero": false, "padding": 0}},
  "y": {"field": "l", "type": "quantitative", "title": null, "scale": {"domain": [0.89675, 1.0302], "nice": false, "zero": false}},
  "y2": {"field": "h"},
  "color": {"condition": {"test": "datum.c >= datum.o", "value": "#0000D0"}, "value": "#FF0000"}
 }},
{"data": {"name": "candles"}, "mark": {"type": "bar", "width": 5},
 "encoding": {
  "x": {"field": "w", "type": "quantitative", "title": null, "scale": {"domain": [-0.125, 192.75], "nice": false, "zero": false, "padding": 0}},
  "y": {"field": "o", "type": "quantitative", "title": null, "scale": {"domain": [0.89675, 1.0302], "nice": false, "zero": false}},
  "y2": {"field": "c"},
  "color": {"condition": {"test": "datum.c >= datum.o", "value": "#0000D0"}, "value": "#FF0000"}
 }},
{"data": {"name": "chikou"}, "mark": {"type": "line", "color": "#000000", "strokeWidth": 1, "clip": true},
 "encoding": {
  "x": {"field": "w", "type": "quantitative", "title": null, "scale": {"domain": [-0.125, 192.75], "nice": false, "zero": false, "padding": 0}},
  "y": {"field": "v", "type": "quantitative", "title": null, "scale": {"domain": [0.89675, 1.0302], "nice": false, "zero": false}}
 }},
{"data": {"name": "tenkan"}, "mark": {"type": "line", "color": "#FF0000", "strokeWidth": 1, "clip": true},
 "encoding": {
  "x": {"field": "w", "type": "quantitative", "title": null, "scale": {"domain": [-0.125, 192.75], "nice": false, "zero": false, "padding": 0}},
  "y": {"field": "v", "type": "quantitative", "title": null, "scale": {"domain": [0.89675, 1.0302], "nice": false, "zero": false}}
 }},
{"data": {"name": "kijun"}, "mark": {"type": "line", "color": "#0000FF", "strokeWidth": 1, "clip": true},
 "encoding": {
  "x": {"field": "w", "type": "quantitative", "title": null, "scale": {"domain": [-0.125, 192.75], "nice": false, "zero": false, "padding": 0}},
  "y": {"field": "v", "type": "quantitative", "title": null, "scale": {"domain": [0.89675, 1.0302], "nice": false, "zero": false}}
 }},
{"data": {"values": [{"v": 0.94185}, {"v": 0.932}, {"v": 0.91365}]}, "mark": {"type": "rule", "color": "#000000", "strokeWidth": 2},
 "encoding": {"y": {"field": "v", "type": "quantitative", "title": null, "scale": {"domain": [0.89675, 1.0302], "nice": false, "zero": false}}}},
{"data": {"values": [{"v": 0.94627}, {"v": 0.92345}]}, "mark": {"type": "rule", "color": "#000000", "strokeWidth": 1, "strokeDash": [10, 4, 2, 4]},
 "encoding": {"y": {"field": "v", "type": "quantitative", "title": null, "scale": {"domain": [0.89675, 1.0302], "nice": false, "zero": false}}}},
{"data": {"values": [{"v": 0.91185}]}, "mark": {"type": "rule", "color": "#778899", "strokeWidth": 1},
 "encoding": {"y": {"field": "v", "type": "quantitative", "title": null, "scale": {"domain": [0.89675, 1.0302], "nice": false, "zero": false}}}},
{"data": {"values": [{"w": 146.25, "v": 0.92709}, {"w": 158.1, "v": 0.89693}]}, "mark": {"type": "line", "color": "#000000", "strokeWidth": 1, "clip": true},
 "encoding": {
  "x": {"field": "w", "type": "quantitative", "title": null, "scale": {"domain": [-0.125, 192.75], "nice": false, "zero": false, "padding": 0}},
  "y": {"field": "v", "type": "quantitative", "title": null, "scale": {"domain": [0.89675, 1.0302], "nice": false, "zero": false}}
 }},
{"data": {"values": [{"w": 152.1, "v": 0.93558, "label": "Grosse sur-vente"}]}, "mark": {"type": "text", "align": "left", "baseline": "middle", "font": "Liberation Sans", "fontSize": 16, "color": "#FF0000"},
 "encoding": {
  "x": {"field": "w", "type": "quantitative", "title": null, "scale": {"domain": [-0.125, 192.75], "nice": false, "zero": false, "padding": 0}},
  "y": {"field": "v", "type": "quantitative", "title": null, "scale": {"domain": [0.89675, 1.0302], "nice": false, "zero": false}},
  "text": {"field": "label"}
 }},
{"data": {"values": [{"w": -0.15, "v": 1.02813, "label": "\u25bc  USDCHF,Weekly  0.90379 0.91361 0.89982 0.91185"}]}, "mark": {"type": "text", "align": "left", "baseline": "middle", "font": "Liberation Sans", "fontSize": 12.4, "color": "#000000"},
 "encoding": {
  "x": {"field": "w", "type": "quantitative", "title": null, "scale": {"domain": [-0.125, 192.75], "nice": false, "zero": false, "padding": 0}},
  "y": {"field": "v", "type": "quantitative", "title": null, "scale": {"domain": [0.89675, 1.0302], "nice": false, "zero": false}},
  "text": {"field": "label"}
 }},
{"data": {"values": [{"w": 153.9, "v": 1.02958}]}, "mark": {"type": "point", "shape": "triangle-down", "filled": true, "size": 60, "color": "#778899", "opacity": 1},
 "encoding": {
  "x": {"field": "w", "type": "quantitative", "title": null, "scale": {"domain": [-0.125, 192.75], "nice": false, "zero": false, "padding": 0}},
  "y": {"field": "v", "type": "quantitative", "title": null, "scale": {"domain": [0.89675, 1.0302], "nice": false, "zero": false}}
 }},
{"data": {"values": [{"w": 193.0, "w2": 200.75, "top": 0.91296, "bot": 0.9107}]}, "mark": {"type": "rect", "color": "#000000", "clip": false},
 "encoding": {
  "x": {"field": "w", "type": "quantitative", "title": null, "scale": {"domain": [-0.125, 192.75], "nice": false, "zero": false, "padding": 0}},
  "x2": {"field": "w2"},
  "y": {"field": "top", "type": "quantitative", "title": null, "scale": {"domain": [0.89675, 1.0302], "nice": false, "zero": false}},
  "y2": {"field": "bot"}
 }},
{"data": {"values": [{"w": 193.75, "v": 0.91185, "label": "0.91185"}]}, "mark": {"type": "text", "align": "left", "baseline": "middle", "font": "Liberation Sans", "fontSize": 12, "color": "#FFFFFF", "clip": false},
 "encoding": {
  "x": {"field": "w", "type": "quantitative", "title": null, "scale": {"domain": [-0.125, 192.75], "nice": false, "zero": false, "padding": 0}},
  "y": {"field": "v", "type": "quantitative", "title": null, "scale": {"domain": [0.89675, 1.0302], "nice": false, "zero": false}},
  "text": {"field": "label"}
 }}
]
},
{
"spacing": 0,
"bounds": "flush",
"hconcat": [
{"width": 138, "height": 28, "view": {"fill": "#F0F0F0", "stroke": "#A0A0A0"}, "data": {"values": [{"tab": "GBPUSD,Weekly"}]}, "mark": {"type": "text", "font": "Liberation Sans", "fontSize": 13.5, "color": "#6D6D6D", "dy": -3}, "encoding": {"text": {"field": "tab"}}},
{"width": 137, "height": 28, "view": {"fill": "#F0F0F0", "stroke": "#A0A0A0"}, "data": {"values": [{"tab": "EURUSD,Weekly"}]}, "mark": {"type": "text", "font": "Liberation Sans", "fontSize": 13.5, "color": "#6D6D6D", "dy": -3}, "encoding": {"text": {"field": "tab"}}},
{"width": 116, "height": 28, "view": {"fill": "#F0F0F0", "stroke": "#A0A0A0"}, "data": {"values": [{"tab": "USDJPY,Daily"}]}, "mark": {"type": "text", "font": "Liberation Sans", "fontSize": 13.5, "color": "#6D6D6D", "dy": -3}, "encoding": {"text": {"field": "tab"}}},
{"width": 135, "height": 28, "view": {"fill": "#FFFFFF", "stroke": "#000000"}, "data": {"values": [{"tab": "USDCHF,Weekly"}]}, "mark": {"type": "text", "font": "Liberation Sans", "fontSize": 13.5, "color": "#000000", "dy": -3}, "encoding": {"text": {"field": "tab"}}},
{"width": 136, "height": 28, "view": {"fill": "#F0F0F0", "stroke": "#A0A0A0"}, "data": {"values": [{"tab": "USDCAD,Weekly"}]}, "mark": {"type": "text", "font": "Liberation Sans", "fontSize": 13.5, "color": "#6D6D6D", "dy": -3}, "encoding": {"text": {"field": "tab"}}},
{"width": 113, "height": 28, "view": {"fill": "#F0F0F0", "stroke": "#A0A0A0"}, "data": {"values": [{"tab": "AUDCAD,H4"}]}, "mark": {"type": "text", "font": "Liberation Sans", "fontSize": 13.5, "color": "#6D6D6D", "dy": -3}, "encoding": {"text": {"field": "tab"}}},
{"width": 100, "height": 28, "view": {"fill": "#F0F0F0", "stroke": "#A0A0A0"}, "data": {"values": [{"tab": "AUDJPY,H4"}]}, "mark": {"type": "text", "font": "Liberation Sans", "fontSize": 13.5, "color": "#6D6D6D", "dy": -3}, "encoding": {"text": {"field": "tab"}}},
{"width": 110, "height": 28, "view": {"fill": "#F0F0F0", "stroke": "#A0A0A0"}, "data": {"values": [{"tab": "AUDNZD,H4"}]}, "mark": {"type": "text", "font": "Liberation Sans", "fontSize": 13.5, "color": "#6D6D6D", "dy": -3}, "encoding": {"text": {"field": "tab"}}},
{"width": 127, "height": 28, "view": {"fill": "#F0F0F0", "stroke": "#A0A0A0"}, "data": {"values": [{"tab": "AUDUSD,Daily"}]}, "mark": {"type": "text", "font": "Liberation Sans", "fontSize": 13.5, "color": "#6D6D6D", "dy": -3}, "encoding": {"text": {"field": "tab"}}},
{"width": 100, "height": 28, "view": {"fill": "#F0F0F0", "stroke": "#A0A0A0"}, "data": {"values": [{"tab": "CADJPY,H4"}]}, "mark": {"type": "text", "font": "Liberation Sans", "fontSize": 13.5, "color": "#6D6D6D", "dy": -3}, "encoding": {"text": {"field": "tab"}}},
{"width": 106, "height": 28, "view": {"fill": "#F0F0F0", "stroke": "#A0A0A0"}, "data": {"values": [{"tab": "EURAUD,H4"}]}, "mark": {"type": "text", "font": "Liberation Sans", "fontSize": 13.5, "color": "#6D6D6D", "dy": -3}, "encoding": {"text": {"field": "tab"}}},
{"width": 109, "height": 28, "view": {"fill": "#F0F0F0", "stroke": "#A0A0A0"}, "data": {"values": [{"tab": "EURCAD,H4"}]}, "mark": {"type": "text", "font": "Liberation Sans", "fontSize": 13.5, "color": "#6D6D6D", "dy": -3}, "encoding": {"text": {"field": "tab"}}},
{"width": 105, "height": 28, "view": {"fill": "#F0F0F0", "stroke": "#A0A0A0"}, "data": {"values": [{"tab": "EURGBP,H4"}]}, "mark": {"type": "text", "font": "Liberation Sans", "fontSize": 13.5, "color": "#6D6D6D", "dy": -3}, "encoding": {"text": {"field": "tab"}}},
{"width": 33, "height": 28, "view": {"fill": "#F0F0F0", "stroke": "#A0A0A0"}, "data": {"values": [{"tab": "EU"}]}, "mark": {"type": "text", "font": "Liberation Sans", "fontSize": 13.5, "color": "#6D6D6D", "dy": -3}, "encoding": {"text": {"field": "tab"}}},
{"width": 16, "height": 28, "view": {"fill": "#F0F0F0"}, "data": {"values": [{"tab": "\u25c0"}]}, "mark": {"type": "text", "font": "DejaVu Sans", "fontSize": 8, "color": "#B0B0B0", "dy": -3}, "encoding": {"text": {"field": "tab"}}},
{"width": 26, "height": 28, "view": {"fill": "#F0F0F0"}, "data": {"values": [{"tab": "\u25b6"}]}, "mark": {"type": "text", "font": "DejaVu Sans", "fontSize": 8, "color": "#000000", "dy": -3}, "encoding": {"text": {"field": "tab"}}}
]
}
]
}
